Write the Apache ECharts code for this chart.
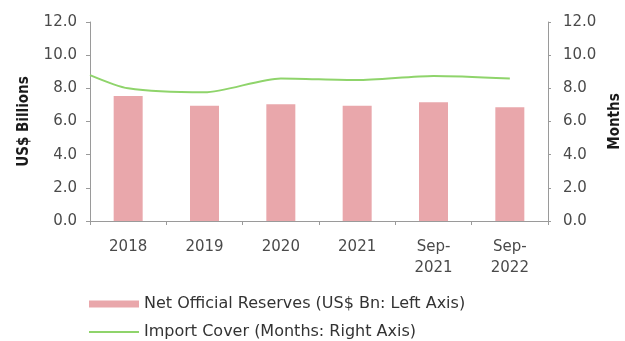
<!DOCTYPE html>
<html>
<head>
<meta charset="utf-8">
<script src="https://cdn.jsdelivr.net/npm/echarts@6/dist/echarts.min.js"></script>
<style>
  html, body { margin: 0; padding: 0; background: #ffffff; }
  #chart { width: 625px; height: 341px; }
</style>
</head>
<body>
<div id="chart"></div>
<script>
// Periods shown on the category axis
const periods = ['2018', '2019', '2020', '2021', 'Sep-\n2021', 'Sep-\n2022'];

// Net official reserves, US$ billions (left axis)
const netOfficialReserves = [7.54, 6.95, 7.04, 6.95, 7.16, 6.86];

// Import cover, months (right axis); the opening reading sits at the start of the axis
const importCoverOpening = 8.8;
const importCover = [8.0, 7.76, 8.6, 8.5, 8.75, 8.6];

// Shared tick settings for both value axes
const axisMin = 0;
const axisMax = 12;
const axisStep = 2;

const reservesName = 'Net Official Reserves (US$ Bn: Left Axis)';
const coverName = 'Import Cover (Months: Right Axis)';

const tickFont = { fontFamily: 'DejaVu Sans', fontSize: 15, color: '#4a4a4a' };
const legendFont = { fontFamily: 'DejaVu Sans', fontSize: 16, color: '#333333' };
const axisGray = '#9a9a9a';
const barColor = '#e9a7ab';
const lineColor = '#8fd46b';

// Line points positioned by category index; the opening point sits half a step before the first category
const coverPoints = [[-0.5, importCoverOpening]].concat(importCover.map((v, i) => [i, v]));

const chart = echarts.init(document.getElementById('chart'), null, { renderer: 'canvas' });

chart.setOption({
  animation: false,
  backgroundColor: '#ffffff',
  grid: { left: 90, right: 77, top: 22, bottom: 120, containLabel: false, outerBoundsMode: 'none' },
  xAxis: [
    {
      type: 'category',
      data: periods,
      boundaryGap: true,
      axisLine: { lineStyle: { color: axisGray, width: 1 } },
      axisTick: { show: true, length: 4, lineStyle: { color: axisGray } },
      axisLabel: Object.assign({ margin: 16, lineHeight: 21, interval: 0 }, tickFont),
      splitLine: { show: false }
    },
    {
      type: 'value',
      min: -0.5,
      max: periods.length - 0.5,
      show: false
    }
  ],
  yAxis: [
    {
      type: 'value',
      min: axisMin,
      max: axisMax,
      interval: axisStep,
      name: 'US$ Billions',
      nameLocation: 'middle',
      nameRotate: 90,
      nameGap: 58,
      nameTextStyle: { fontFamily: 'DejaVu Sans Condensed', fontWeight: 'bold', fontSize: 15, color: '#1a1a1a' },
      axisLine: { show: true, onZero: false, lineStyle: { color: axisGray } },
      axisTick: { show: true, length: 4, lineStyle: { color: axisGray } },
      axisLabel: Object.assign({ margin: 13, formatter: v => v.toFixed(1) }, tickFont),
      splitLine: { show: false }
    },
    {
      type: 'value',
      min: axisMin,
      max: axisMax,
      interval: axisStep,
      position: 'right',
      name: 'Months',
      nameLocation: 'middle',
      nameRotate: 90,
      nameGap: 58,
      nameTextStyle: { fontFamily: 'DejaVu Sans Condensed', fontWeight: 'bold', fontSize: 15, color: '#1a1a1a' },
      axisLine: { show: true, onZero: false, lineStyle: { color: axisGray } },
      axisTick: { show: true, length: 3, lineStyle: { color: axisGray } },
      axisLabel: Object.assign({ margin: 15, formatter: v => v.toFixed(1) }, tickFont),
      splitLine: { show: false }
    }
  ],
  legend: [
    {
      left: 89,
      top: 296,
      padding: 0,
      itemWidth: 50,
      itemHeight: 7,
      icon: 'rect',
      textStyle: legendFont,
      data: [{ name: reservesName }]
    },
    {
      left: 89,
      top: 324,
      padding: 0,
      itemWidth: 50,
      itemHeight: 2,
      icon: 'rect',
      textStyle: legendFont,
      data: [{ name: coverName, itemStyle: { color: lineColor } }]
    }
  ],
  series: [
    {
      name: reservesName,
      type: 'bar',
      xAxisIndex: 0,
      yAxisIndex: 0,
      data: netOfficialReserves,
      barWidth: 29,
      itemStyle: { color: barColor }
    },
    {
      name: coverName,
      type: 'line',
      xAxisIndex: 1,
      yAxisIndex: 1,
      data: coverPoints,
      symbol: 'none',
      smooth: 0.25,
      lineStyle: { color: lineColor, width: 2 },
      itemStyle: { color: lineColor },
      z: 3
    }
  ]
});
</script>
</body>
</html>
